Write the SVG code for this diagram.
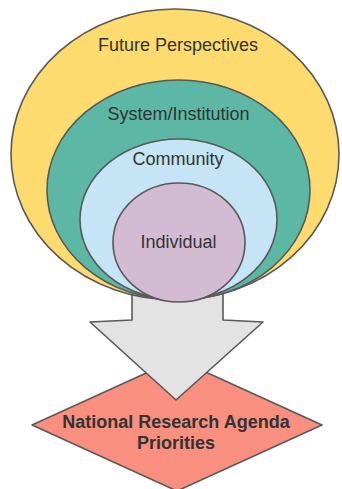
<svg xmlns="http://www.w3.org/2000/svg" width="342" height="489" viewBox="0 0 342 489">
  <style>
    .shape { stroke: #595959; stroke-width: 1.6; stroke-linejoin: round; }
    .label { font-family: "Liberation Sans", Arial, sans-serif; font-size: 18px; fill: #333333; text-anchor: middle; }
    .bold { font-weight: bold; }
  </style>
  <rect width="342" height="489" fill="#ffffff"/>

  <!-- target node: research priorities -->
  <g id="priorities">
    <polygon class="shape" points="177,359 322,425 177,491 32,425" fill="#f98f7f"/>
    <text class="label bold" x="176" y="428">National Research Agenda</text>
    <text class="label bold" x="176" y="449">Priorities</text>
  </g>

  <!-- connector: block arrow from nested levels to priorities -->
  <g id="connectors">
    <polygon class="shape" points="132,285 223,285 223,320 263,322 176,400 90,322 132,320" fill="#e3e3e3"/>
  </g>

  <!-- nested levels, outermost first -->
  <g id="future-perspectives">
    <ellipse class="shape" cx="175" cy="154.5" rx="164" ry="145.5" fill="#fedb6f"/>
    <text class="label" x="178" y="51">Future Perspectives</text>
  </g>
  <g id="system-institution">
    <ellipse class="shape" cx="178.5" cy="190" rx="131.5" ry="110" fill="#5cb8a4"/>
    <text class="label" x="178.5" y="120">System/Institution</text>
  </g>
  <g id="community">
    <ellipse class="shape" cx="178.5" cy="219.5" rx="98.5" ry="80.5" fill="#c5e4f5"/>
    <text class="label" x="178" y="165">Community</text>
  </g>
  <g id="individual">
    <ellipse class="shape" cx="179" cy="242.5" rx="66" ry="59.5" fill="#d4bbd4"/>
    <text class="label" x="178.5" y="248">Individual</text>
  </g>
</svg>
